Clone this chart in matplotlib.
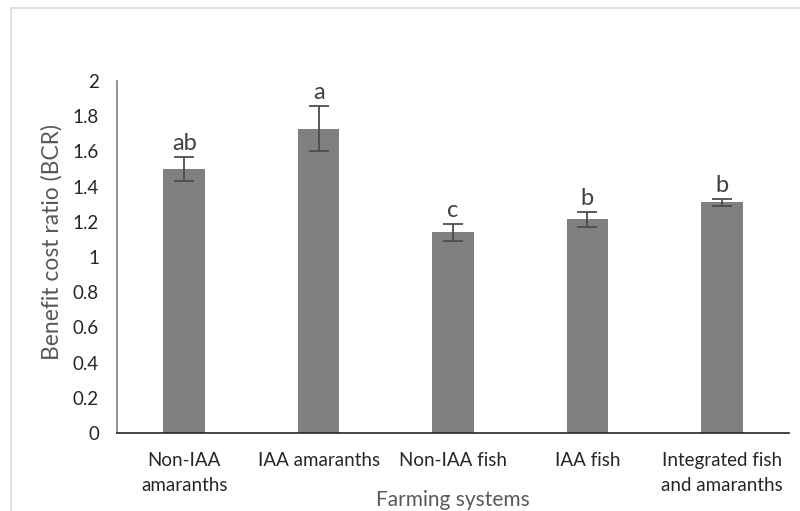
import matplotlib
matplotlib.use("Agg")
import matplotlib.pyplot as plt
from matplotlib.patches import Rectangle

plt.rcParams['font.family'] = ['Lato', 'DejaVu Sans']

categories = ["Non-IAA\namaranths", "IAA amaranths", "Non-IAA fish", "IAA fish",
              "Integrated fish\nand amaranths"]
bcr = [1.50, 1.73, 1.14, 1.215, 1.31]
bcr_err = [0.07, 0.13, 0.05, 0.043, 0.02]
letters = ["ab", "a", "c", "b", "b"]
yticks = [0, 0.2, 0.4, 0.6, 0.8, 1, 1.2, 1.4, 1.6, 1.8, 2]
ytick_labels = ["0", "0.2", "0.4", "0.6", "0.8", "1", "1.2", "1.4", "1.6", "1.8", "2"]

W, H = 800, 511
fig = plt.figure(figsize=(W / 100, H / 100), dpi=100)

# light outer chart-area frame
fig.patches.append(Rectangle((11 / W, -0.1), 1.2, 1 - 8 / H + 0.1,
                             transform=fig.transFigure, fill=False,
                             edgecolor="#d9d9d9", linewidth=1.2))

ax = fig.add_axes([117 / W, 1 - 433 / H, (789 - 117) / W, (433 - 81) / H])
x = list(range(len(categories)))
ax.bar(x, bcr, width=0.31, color="#808080", zorder=2)
ax.errorbar(x, bcr, yerr=bcr_err, fmt="none", ecolor="#4d4d4d",
            elinewidth=1.3, capsize=7, capthick=1.3, zorder=3)

for xi, v, e, lab in zip(x, bcr, bcr_err, letters):
    ax.annotate(lab, (xi, v + e), xytext=(0, 2), textcoords="offset points",
                ha="center", va="bottom", fontsize=17, color="#404040")

ax.set_xlim(-0.5, len(categories) - 0.5)
ax.set_ylim(0, 2)
ax.set_yticks(yticks)
ax.set_yticklabels(ytick_labels)
ax.set_xticks(x)
ax.set_xticklabels(categories, linespacing=1.55)
ax.tick_params(axis="both", length=0, labelsize=13.5, colors="#262626")
ax.tick_params(axis="y", pad=13)
ax.tick_params(axis="x", pad=14)

for s in ("top", "right"):
    ax.spines[s].set_visible(False)
ax.spines["left"].set_color("#7f7f7f")
ax.spines["left"].set_linewidth(1.2)
ax.spines["bottom"].set_color("#262626")
ax.spines["bottom"].set_linewidth(1.2)

ax.set_ylabel("Benefit cost ratio (BCR)", fontsize=16.5, color="#595959")
ax.yaxis.set_label_coords((63 - 117) / (789 - 117), (433 - 242) / (433 - 81),
                          transform=ax.transAxes)
ax.set_xlabel("Farming systems", fontsize=15, color="#595959")
ax.xaxis.set_label_coords(0.5, (433 - 506) / (433 - 81), transform=ax.transAxes)
ax.xaxis.label.set_va("baseline")

fig.savefig("out.png", dpi=100, facecolor="white")
